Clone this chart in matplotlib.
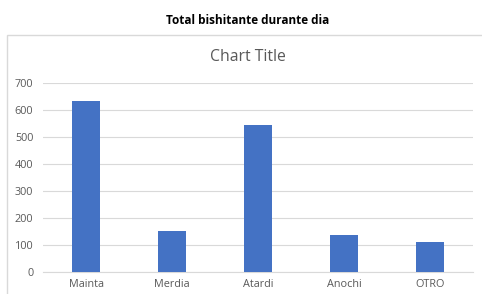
import matplotlib
matplotlib.use("Agg")
import matplotlib.pyplot as plt
from matplotlib.patches import Rectangle

categories = ["Mainta", "Merdia", "Atardi", "Anochi", "OTRO"]
values = [635, 153, 545, 137, 112]
yticks = [0, 100, 200, 300, 400, 500, 600, 700]

W, H = 482, 294
fig = plt.figure(figsize=(W / 100, H / 100), dpi=100)
fig.patch.set_facecolor("white")

# outer chart frame
fig.patches.append(Rectangle((7 / W, -0.1), 1.2, 1 - 35 / H + 0.1, transform=fig.transFigure,
                             fill=False, edgecolor="#d9d9d9", linewidth=1.0))

ax = fig.add_axes([43 / W, 1 - 271.7 / H, (473 - 43) / W, (271.7 - 83.3) / H])
x = range(len(categories))
ax.bar(x, values, width=0.32, color="#4472c4", zorder=3)
ax.set_xlim(-0.5, len(categories) - 0.5)
ax.set_ylim(0, 700)
ax.set_yticks(yticks)
ax.set_xticks(list(x))
ax.set_xticklabels(categories)
ax.grid(axis="y", color="#d9d9d9", linewidth=0.8, zorder=0)
for s in ["top", "right", "left"]:
    ax.spines[s].set_visible(False)
ax.spines["bottom"].set_color("#d9d9d9")
ax.spines["bottom"].set_linewidth(0.8)
ax.tick_params(axis="both", length=0, labelsize=7.8, labelcolor="#595959", labelfontfamily="Open Sans")
ax.tick_params(axis="x", pad=5)
ax.tick_params(axis="y", pad=7)

fig.text(248 / W, 1 - 20 / H, "Total bishitante durante dia", ha="center", va="center",
         fontsize=8.5, fontweight="bold", family="Open Sans", color="black")
fig.text(247.5 / W, 1 - 57 / H, "Chart Title", ha="center", va="center",
         fontsize=11.3, family="Open Sans", color="#595959")

fig.savefig("out.png", dpi=100)
